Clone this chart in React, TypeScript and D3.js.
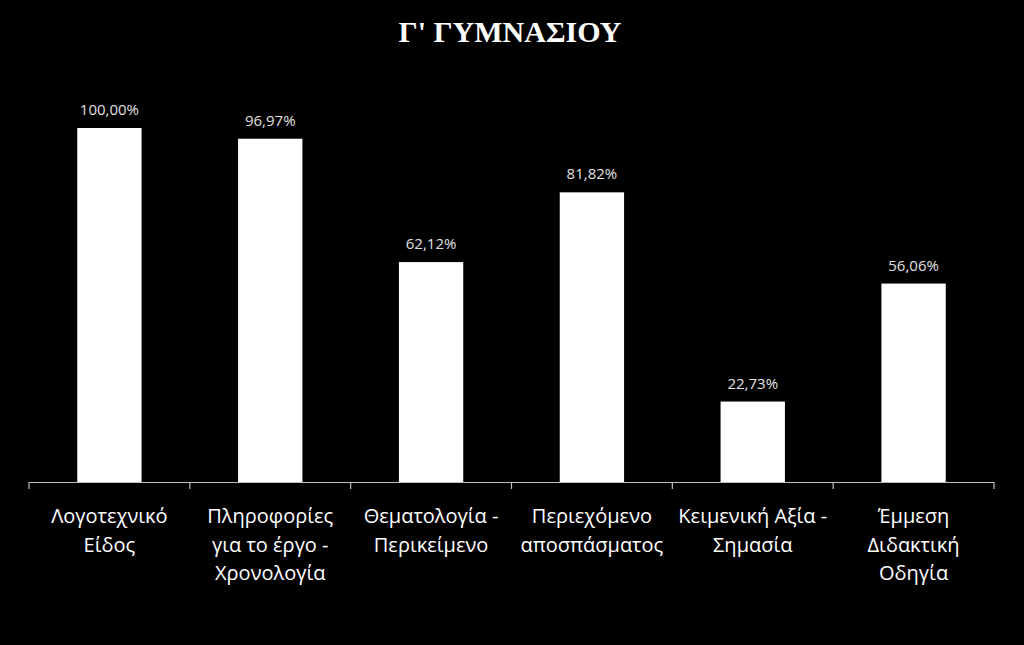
import React, { useEffect, useRef } from "react";
import * as d3 from "d3";

const categories: string[][] = [
  ["Λογοτεχνικό", "Είδος"],
  ["Πληροφορίες", "για το έργο -", "Χρονολογία"],
  ["Θεματολογία -", "Περικείμενο"],
  ["Περιεχόμενο", "αποσπάσματος"],
  ["Κειμενική Αξία -", "Σημασία"],
  ["Έμμεση", "Διδακτική", "Οδηγία"],
];
const values: number[] = [100.0, 96.97, 62.12, 81.82, 22.73, 56.06];
const valueLabels: string[] = ["100,00%", "96,97%", "62,12%", "81,82%", "22,73%", "56,06%"];
const title = "Γ' ΓΥΜΝΑΣΙΟΥ";

const W = 1024;
const H = 645;

export default function App() {
  const ref = useRef<SVGSVGElement>(null);
  useEffect(() => {
    document.body.style.margin = "0";
    const svg = d3.select(ref.current);
    svg.selectAll("*").remove();
    svg.append("rect").attr("width", W).attr("height", H).attr("fill", "#000");

    const left = 29, right = 994, base = 482, top100 = 128;
    const idx = categories.map((_, i) => String(i));
    const x = d3.scaleBand<string>().domain(idx).range([left, right]).paddingInner(0.6).paddingOuter(0.3);
    const xb = d3.scaleBand<string>().domain(idx).range([left, right]).padding(0);
    const y = d3.scaleLinear().domain([0, 100]).range([base, top100]);

    svg.append("text")
      .attr("x", W / 2 - 2).attr("y", 42)
      .attr("text-anchor", "middle")
      .attr("font-family", "'Liberation Serif', 'Times New Roman', serif")
      .attr("font-weight", "bold").attr("font-size", 30).attr("fill", "#fff")
      .text(title);

    const g = svg.append("g");
    g.selectAll("rect.bar").data(values).enter().append("rect")
      .attr("class", "bar")
      .attr("x", (_, i) => x(String(i))!)
      .attr("width", x.bandwidth())
      .attr("y", (d) => y(d))
      .attr("height", (d) => base - y(d))
      .attr("fill", "#fff");

    g.selectAll("text.val").data(values).enter().append("text")
      .attr("class", "val")
      .attr("x", (_, i) => x(String(i))! + x.bandwidth() / 2)
      .attr("y", (d) => y(d) - 13)
      .attr("text-anchor", "middle")
      .attr("font-family", "'Open Sans', sans-serif").attr("font-size", 15)
      .attr("fill", "#e0e0e0")
      .text((_, i) => valueLabels[i]);

    // axis
    const axisColor = "#bfbfbf";
    g.append("line").attr("x1", left).attr("x2", right).attr("y1", base + 0.5).attr("y2", base + 0.5)
      .attr("stroke", axisColor).attr("stroke-width", 1.2);
    const ticks = idx.map((k) => xb(k)!).concat([right]);
    g.selectAll("line.tick").data(ticks).enter().append("line")
      .attr("x1", (d) => d).attr("x2", (d) => d)
      .attr("y1", base).attr("y2", base + 7)
      .attr("stroke", axisColor).attr("stroke-width", 1.2);

    categories.forEach((lines, i) => {
      const cx = xb(String(i))! + xb.bandwidth() / 2;
      const t = g.append("text")
        .attr("text-anchor", "middle")
        .attr("font-family", "'Open Sans', sans-serif").attr("font-size", 20)
        .attr("fill", "#fff");
      lines.forEach((ln, j) => {
        t.append("tspan").attr("x", cx).attr("y", 523 + j * 28.5).text(ln);
      });
    });
  }, []);
  return <svg ref={ref} width={W} height={H} style={{ display: "block" }} />;
}
